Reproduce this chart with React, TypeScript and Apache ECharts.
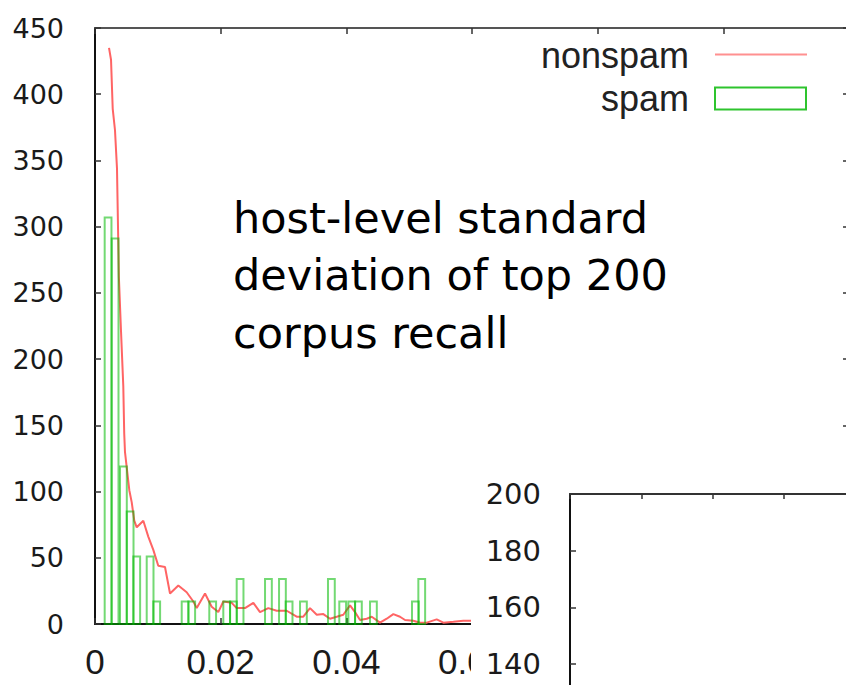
import React, { useEffect, useRef } from "react";
import * as echarts from "echarts";

// nonspam: frequency curve (x = host-level std. dev., y = count)
const nonspamX = [
  0.00223, 0.00255, 0.00282, 0.00318, 0.0035, 0.0038, 0.00414, 0.0045, 0.00465, 0.00477,
  0.00546, 0.00584, 0.00625, 0.00664, 0.00769, 0.00848, 0.00928, 0.01007, 0.01114, 0.01194,
  0.01326, 0.01459, 0.01565, 0.01619, 0.01751, 0.01857, 0.01962, 0.02042, 0.02176, 0.02255,
  0.02387, 0.0252, 0.02626, 0.02758, 0.02892, 0.03051, 0.0321, 0.03315, 0.03422, 0.03529,
  0.03634, 0.0374, 0.03847, 0.03952, 0.04059, 0.04138, 0.04218, 0.04324, 0.04404, 0.04536,
  0.04643, 0.04748, 0.04854, 0.04934, 0.05066, 0.05173, 0.05279, 0.05438, 0.05544, 0.05703,
  0.05862, 0.06048,
];
const nonspamY = [
  435, 426, 389, 373, 344, 262, 221, 180, 144, 130,
  101, 92, 78, 73, 78, 66, 56, 44, 43, 23,
  29, 24, 17, 12, 23, 13, 9, 17, 16, 12,
  12, 16, 9, 12, 10, 10, 5.5, 5.5, 12, 7,
  7.5, 4, 5.5, 7, 14, 9, 3, 4, 5.5, 1,
  4, 7.5, 5.5, 3, 2.5, 1, 1, 3.5, 1, 1.7,
  2.5, 2.5,
];

// spam: histogram bins (left edge of bin, count)
const spamBinLeft = [
  0.00154, 0.00266, 0.00398, 0.00505, 0.0061, 0.00823, 0.00928, 0.0138, 0.01485, 0.01819,
  0.02042, 0.02149, 0.02255, 0.02706, 0.02929, 0.03035, 0.03263, 0.03708, 0.03888, 0.04032,
  0.04138, 0.04377, 0.05045, 0.05146,
];
const spamCount = [
  307, 291, 119, 85, 51, 51, 17, 17, 17, 17,
  17, 17, 34, 34, 34, 17, 17, 34, 17, 17,
  17, 17, 17, 34,
];
const spamBinWidth = 0.00108;

const legendNames = ["nonspam", "spam"];
const annotationLines = ["host-level standard", "deviation of top 200", "corpus recall"];

export default function App() {
  const ref = useRef<HTMLDivElement>(null);

  useEffect(() => {
    document.body.style.margin = "0";
    if (!ref.current) return;
    const chart = echarts.init(ref.current, undefined, { renderer: "svg" });

    const axisLineDark = { show: true, onZero: false, lineStyle: { color: "#111", width: 2 } };
    const tickInside = (len: number) => ({
      show: true,
      inside: true,
      length: len,
      lineStyle: { color: "#333", width: 1.5 },
    });

    const option: any = {
      animation: false,
      backgroundColor: "#ffffff",
      grid: [
        { left: 95, top: 28, width: 754, height: 596, containLabel: false, outerBoundsMode: "none" },
        { left: 570, top: 494, width: 714, height: 226.67, containLabel: false, outerBoundsMode: "none" },
      ],
      xAxis: [
        {
          gridIndex: 0,
          type: "value",
          min: 0,
          max: 0.12,
          interval: 0.02,
          position: "bottom",
          axisLine: axisLineDark,
          axisTick: tickInside(6),
          splitLine: { show: false },
          axisLabel: {
            margin: 20,
            fontFamily: "Liberation Sans",
            fontSize: 35,
            color: "#1a1a1a",
            showMaxLabel: false,
            formatter: (v: number) => (v === 0 ? "0" : v > 0.065 ? "" : v.toFixed(2)),
          },
        },
        {
          gridIndex: 0,
          type: "value",
          min: 0,
          max: 0.12,
          interval: 0.02,
          position: "top",
          axisLine: { show: true, onZero: false, lineStyle: { color: "#555", width: 2 } },
          axisTick: tickInside(6),
          splitLine: { show: false },
          axisLabel: { show: false },
        },
        {
          gridIndex: 1,
          type: "value",
          min: 0,
          max: 10,
          interval: 1,
          position: "top",
          z: 110,
          axisLine: { show: true, onZero: false, lineStyle: { color: "#333", width: 2 } },
          axisTick: tickInside(5),
          splitLine: { show: false },
          axisLabel: { show: false },
        },
      ],
      yAxis: [
        {
          gridIndex: 0,
          type: "value",
          min: 0,
          max: 450,
          interval: 50,
          position: "left",
          axisLine: axisLineDark,
          axisTick: tickInside(6),
          splitLine: { show: false },
          axisLabel: {
            margin: 31,
            fontFamily: "DejaVu Sans",
            fontSize: 27,
            color: "#1a1a1a",
          },
        },
        {
          gridIndex: 0,
          type: "value",
          min: 0,
          max: 450,
          interval: 50,
          position: "right",
          axisLine: axisLineDark,
          axisTick: tickInside(6),
          splitLine: { show: false },
          axisLabel: { show: false },
        },
        {
          gridIndex: 1,
          type: "value",
          min: 120,
          max: 200,
          interval: 20,
          position: "left",
          z: 110,
          axisLine: axisLineDark,
          axisTick: tickInside(6),
          splitLine: { show: false },
          axisLabel: {
            margin: 29,
            fontFamily: "DejaVu Sans",
            fontSize: 29,
            color: "#1a1a1a",
            showMinLabel: false,
          },
        },
      ],
      series: [
        {
          name: legendNames[0],
          type: "line",
          xAxisIndex: 0,
          yAxisIndex: 0,
          data: nonspamX.map((x, i) => [x, nonspamY[i]]),
          symbol: "none",
          showSymbol: false,
          lineStyle: { color: "#ff6464", width: 2 },
          z: 2,
        },
        {
          name: legendNames[1],
          type: "custom",
          xAxisIndex: 0,
          yAxisIndex: 0,
          encode: { x: 0, y: 1 },
          data: spamBinLeft.map((x, i) => [x, spamCount[i]]),
          renderItem: (_params: any, api: any) => {
            const x0 = api.value(0);
            const c = api.value(1);
            const p0 = api.coord([x0, c]);
            const p1 = api.coord([x0 + spamBinWidth, 0]);
            return {
              type: "rect",
              shape: { x: p0[0], y: p0[1], width: p1[0] - p0[0], height: p1[1] - p0[1] },
              style: { fill: "none", stroke: "rgba(0,185,0,0.55)", lineWidth: 2 },
            };
          },
          z: 3,
        },
      ],
      graphic: [
        {
          type: "text",
          x: 233,
          y: 189,
          z: 50,
          style: {
            text: annotationLines.join("\n"),
            fontFamily: "DejaVu Sans",
            fontSize: 43,
            lineHeight: 57.5,
            fill: "#000",
            verticalAlign: "top",
            align: "left",
          },
        },
        {
          type: "text",
          x: 689,
          y: 55,
          z: 50,
          style: {
            text: legendNames[0],
            fontFamily: "Liberation Sans",
            fontSize: 36,
            fill: "#222",
            align: "right",
            verticalAlign: "middle",
          },
        },
        {
          type: "line",
          z: 50,
          shape: { x1: 715, y1: 54.5, x2: 807, y2: 54.5 },
          style: { stroke: "#ff9090", lineWidth: 2 },
        },
        {
          type: "text",
          x: 689,
          y: 98,
          z: 50,
          style: {
            text: legendNames[1],
            fontFamily: "Liberation Sans",
            fontSize: 36,
            fill: "#222",
            align: "right",
            verticalAlign: "middle",
          },
        },
        {
          type: "rect",
          z: 50,
          shape: { x: 715, y: 87.5, width: 91, height: 22 },
          style: { fill: "none", stroke: "#2ec42e", lineWidth: 2 },
        },
        {
          type: "rect",
          z: 100,
          shape: { x: 471, y: 476, width: 400, height: 260 },
          style: { fill: "#ffffff" },
        },
      ],
    };

    chart.setOption(option);
    return () => chart.dispose();
  }, []);

  return <div ref={ref} style={{ width: 846, height: 685 }} />;
}
